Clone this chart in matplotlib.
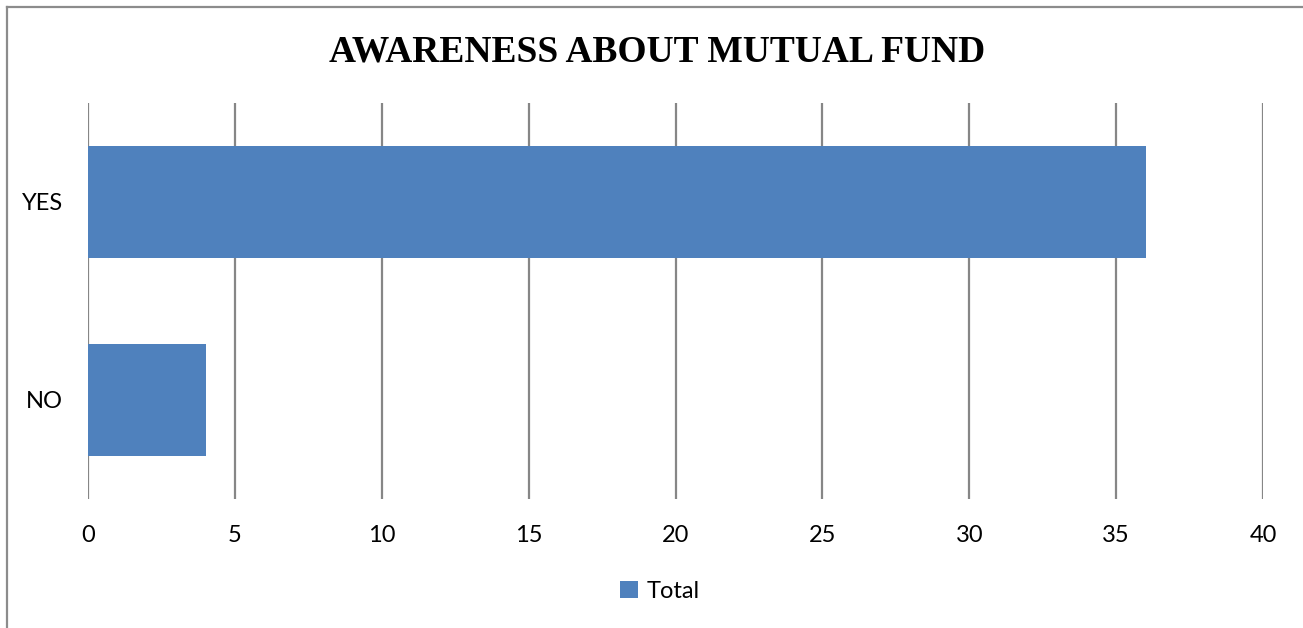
import matplotlib

matplotlib.use("Agg")
import matplotlib.pyplot as plt
from matplotlib.lines import Line2D

categories = ["NO", "YES"]
totals = [4, 36]
xticks = [0, 5, 10, 15, 20, 25, 30, 35, 40]

W, H = 1303, 628
fig = plt.figure(figsize=(W / 100, H / 100), dpi=100)
ax = fig.add_axes([88 / W, 1 - 499 / H, (1263 - 88) / W, (499 - 103) / H])

bars = ax.barh(range(len(categories)), totals, height=0.57, color="#4F81BD", label="Total", zorder=3)
ax.set_xlim(0, 40)
ax.set_ylim(-0.5, 1.5)
ax.set_xticks(xticks)
ax.set_yticks(range(len(categories)))
ax.set_yticklabels(categories)
ax.grid(axis="x", color="#868686", linewidth=1.6, zorder=0)
for s in ax.spines.values():
    s.set_visible(False)
ax.tick_params(length=0, labelsize=17, colors="black")
ax.tick_params(axis="x", pad=19)
ax.tick_params(axis="y", pad=18)
for lab in ax.get_xticklabels() + ax.get_yticklabels():
    lab.set_fontfamily("Lato")

fig.text(657 / W, 1 - 52 / H, "AWARENESS ABOUT MUTUAL FUND", ha="center", va="center",
         fontsize=27, fontweight="bold", family="Liberation Serif")

leg = fig.legend(handles=[bars], labels=["Total"], loc="center", bbox_to_anchor=(660 / W, 1 - 591 / H),
                 frameon=False, handlelength=0.75, handleheight=0.75, handletextpad=0.35,
                 prop={"family": "Lato", "size": 17})

# outer chart border (only left and top edges visible)
fig.add_artist(Line2D([7 / W, 7 / W], [0, 1 - 7 / H], color="#8c8c8c", linewidth=1.6))
fig.add_artist(Line2D([7 / W, 1], [1 - 7 / H, 1 - 7 / H], color="#8c8c8c", linewidth=1.6))

fig.savefig("out.png", dpi=100)
